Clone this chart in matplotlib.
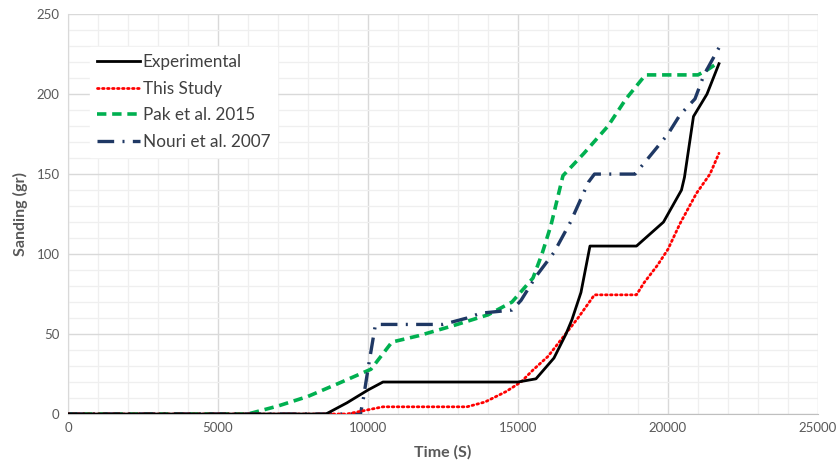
import matplotlib
matplotlib.use("Agg")
import matplotlib.pyplot as plt
from matplotlib.ticker import MultipleLocator

plt.rcParams['font.family'] = ['Lato', 'DejaVu Sans']

# Sand production vs. time for the experiment and three models
exp_t = [0, 8600, 9300, 10000, 10500, 15000, 15600, 16200, 16600, 16800, 17100,
         17400, 18950, 19850, 20450, 20550, 20850, 21300, 21700]
exp_y = [0, 0, 7, 15, 20, 20, 22, 35, 50, 59, 76, 105, 105, 120, 140, 148, 186, 200, 219]

study_t = [0, 9300, 9700, 10100, 10500, 13300, 13900, 14600, 15100, 15500, 16000,
           16500, 17000, 17550, 18950, 19200, 19650, 20000, 20400, 20950, 21400, 21700]
study_y = [0, 0, 1.5, 3, 4.5, 4.5, 7.5, 14, 20, 27.5, 36, 48, 60, 74.5, 74.5, 82, 93,
           103, 119, 138, 150, 163]

pak_t = [0, 6000, 7000, 8000, 9000, 10100, 10800, 11700, 12800, 14000, 14800, 15500,
         15800, 16100, 16500, 17200, 18000, 18600, 19250, 21000, 21300, 21700]
pak_y = [0, 0, 5, 11, 19, 28, 45, 49, 55, 62, 70, 85, 100, 118, 149, 163, 180, 197,
         212, 212, 215, 220]

nouri_t = [0, 9750, 9850, 10000, 10250, 12500, 13300, 13750, 14800, 15100, 15600,
           16200, 16750, 17350, 17550, 18900, 19300, 20000, 20400, 20900, 21200, 21700]
nouri_y = [0, 0, 10, 28, 56, 56, 60, 63, 65, 71, 86, 101, 120, 145, 150, 150, 159,
           175, 187, 197, 212, 229]

labels = ["Experimental", "This Study", "Pak et al. 2015", "Nouri et al. 2007"]

fig = plt.figure(figsize=(8.38, 4.71), dpi=100)
ax = fig.add_axes([0.0811, 0.121, 0.895, 0.849])

ax.plot(exp_t, exp_y, color="black", lw=2.0, label=labels[0], zorder=5)
ax.plot(study_t, study_y, color="#ff0000", lw=2.0, linestyle=(0, (0.6, 1.2)),
        dash_capstyle="round", label=labels[1], zorder=4)
ax.plot(pak_t, pak_y, color="#00b050", lw=2.6, linestyle=(0, (2.6, 1.6)),
        label=labels[2], zorder=3)
ax.plot(nouri_t, nouri_y, color="#1f3864", lw=2.4, linestyle=(0, (5, 2.5, 0.6, 2.5)),
        label=labels[3], zorder=3)

ax.set_xlim(0, 25000)
ax.set_ylim(0, 250)
ax.xaxis.set_major_locator(MultipleLocator(5000))
ax.xaxis.set_minor_locator(MultipleLocator(1000))
ax.yaxis.set_major_locator(MultipleLocator(50))
ax.yaxis.set_minor_locator(MultipleLocator(10))

ax.grid(which="major", color="#d9d9d9", lw=1.0)
ax.grid(which="minor", color="#efefef", lw=0.9)
ax.set_axisbelow(True)

for side in ("top", "right"):
    ax.spines[side].set_visible(False)
ax.spines["left"].set_color("#d9d9d9")
ax.spines["bottom"].set_color("#bfbfbf")
ax.tick_params(which="both", length=0, colors="#595959", labelsize=9.5, pad=6)

ax.set_xlabel("Time (S)", fontsize=11.5, fontweight="bold", color="#595959", labelpad=8)
ax.set_ylabel("Sanding (gr)", fontsize=11.5, fontweight="bold", color="#595959", labelpad=6)

leg = ax.legend(loc="upper left", bbox_to_anchor=(0.03, 0.917), frameon=True,
                fontsize=12.3, handlelength=2.5, handletextpad=0.15, labelspacing=0.62,
                borderaxespad=0.0, borderpad=0.4, fancybox=False)
leg.get_frame().set_edgecolor("white")
leg.get_frame().set_facecolor("white")
leg.get_frame().set_alpha(1.0)
for txt in leg.get_texts():
    txt.set_color("#404040")

fig.savefig("out.png", dpi=100)
